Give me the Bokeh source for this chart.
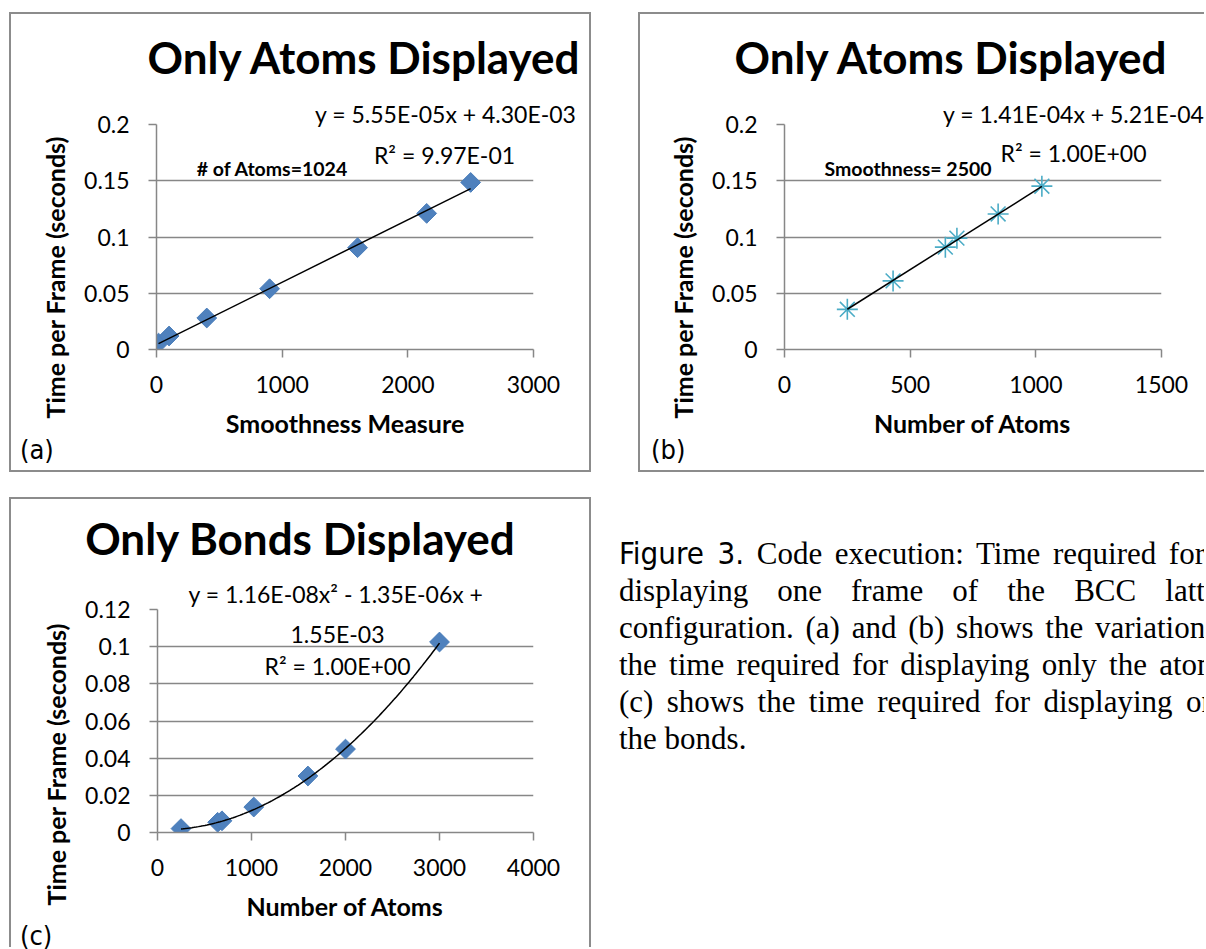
import numpy as np
from bokeh.plotting import figure
from bokeh.models import Range1d, FixedTicker, Label, Title, Spacer, Div
from bokeh.layouts import row, column
from bokeh.embed import file_html
from bokeh.resources import INLINE

# ---------------- data ----------------
y_label = "Time per Frame (seconds)"

a_title = "Only Atoms Displayed"
a_xlabel = "Smoothness Measure"
a_x = [16, 100, 400, 900, 1600, 2150, 2500]
a_y = [0.0057, 0.0120, 0.0280, 0.0540, 0.0905, 0.1210, 0.1485]
a_coef = [5.55e-05, 4.30e-03]          # slope, intercept
a_eq = "y = 5.55E-05x + 4.30E-03"
a_r2 = "R\u00b2 = 9.97E-01"
a_note = "# of Atoms=1024"
a_xticks = [0, 1000, 2000, 3000]
a_yticks = [0, 0.05, 0.1, 0.15, 0.2]
a_ylabels = ["0", "0.05", "0.1", "0.15", "0.2"]

b_title = "Only Atoms Displayed"
b_xlabel = "Number of Atoms"
b_x = [250, 432, 640, 686, 850, 1024]
b_y = [0.0357, 0.0610, 0.0910, 0.0990, 0.1205, 0.1452]
b_coef = [1.41e-04, 5.21e-04]
b_eq = "y = 1.41E-04x + 5.21E-04"
b_r2 = "R\u00b2 = 1.00E+00"
b_note = "Smoothness= 2500"
b_xticks = [0, 500, 1000, 1500]
b_yticks = [0, 0.05, 0.1, 0.15, 0.2]
b_ylabels = ["0", "0.05", "0.1", "0.15", "0.2"]

c_title = "Only Bonds Displayed"
c_xlabel = "Number of Atoms"
c_x = [250, 640, 686, 1024, 1600, 2000, 3000]
c_y = [0.0021, 0.0055, 0.0063, 0.0137, 0.0304, 0.0449, 0.1025]
c_coef = [1.16e-08, -1.35e-06, 1.55e-03]   # x^2, x, const
c_eq1 = "y = 1.16E-08x\u00b2 - 1.35E-06x +"
c_eq2 = "1.55E-03"
c_r2 = "R\u00b2 = 1.00E+00"
c_xticks = [0, 1000, 2000, 3000, 4000]
c_yticks = [0, 0.02, 0.04, 0.06, 0.08, 0.1, 0.12]
c_ylabels = ["0", "0.02", "0.04", "0.06", "0.08", "0.1", "0.12"]

panel_tags = ["(a)", "(b)", "(c)"]

caption_label = "Figure 3."
caption_lines = [
    "Code execution: Time required for",
    "displaying one frame of the BCC lattice",
    "configuration. (a) and (b) shows the variation in",
    "the time required for displaying only the atoms.",
    "(c) shows the time required for displaying only",
    "the bonds.",
]

# ---------------- style ----------------
GRID = "#878787"
FONT = "Lato"
COND = "'DejaVu Sans Condensed','DejaVu Sans',sans-serif"
BLUE = "#4f81bd"
AQUA = "#4bacc6"
EDGE = "#8c8c8c"


class Geo:
    """window-pixel -> data conversion for one panel's frame"""
    def __init__(self, L, FW, T, FH, xr, yr):
        self.L, self.FW, self.T, self.FH, self.xr, self.yr = L, FW, T, FH, xr, yr

    def x(self, px):
        return self.xr[0] + (px - self.L) / self.FW * (self.xr[1] - self.xr[0])

    def y(self, py):
        return self.yr[1] - (py - self.T) / self.FH * (self.yr[1] - self.yr[0])


def make_panel(width, height, left, right, top, bottom, xr, yr,
               xticks, yticks, ylabels, xlabel, ylab_offset):
    p = figure(width=width, height=height, x_range=Range1d(*xr), y_range=Range1d(*yr),
               output_backend="svg", toolbar_location=None, title=None,
               min_border_left=left, min_border_right=right,
               min_border_top=top, min_border_bottom=bottom,
               background_fill_color=None, border_fill_color=None,
               outline_line_color=None)
    p.xgrid.visible = False
    p.ygrid.ticker = FixedTicker(ticks=yticks)
    p.ygrid.grid_line_color = GRID
    p.ygrid.grid_line_width = 1.5
    for ax in (p.xaxis[0], p.yaxis[0]):
        ax.axis_line_color = GRID
        ax.axis_line_width = 1.5
        ax.major_tick_line_color = GRID
        ax.major_tick_line_width = 1.5
        ax.major_tick_out = 8
        ax.major_tick_in = 0
        ax.minor_tick_line_color = None
        ax.major_label_text_font = FONT
        ax.major_label_text_font_size = "23px"
        ax.major_label_text_color = "black"
        ax.axis_label_text_font = FONT
        ax.axis_label_text_font_style = "bold"
        ax.axis_label_text_font_size = "25px"
        ax.axis_label_text_color = "black"
    p.xaxis.ticker = FixedTicker(ticks=xticks)
    p.yaxis.ticker = FixedTicker(ticks=yticks)
    p.yaxis.major_label_overrides = {t: s for t, s in zip(yticks, ylabels)}
    p.xaxis.major_label_standoff = 18
    p.yaxis.major_label_standoff = 19
    p.xaxis.axis_label_standoff = 12
    p.xaxis.axis_label = xlabel
    # y-axis title: placed as a side title so it can sit lower than the frame centre
    p.add_layout(Title(text=y_label, align="left", offset=ylab_offset, standoff=23,
                       vertical_align="bottom", text_font=FONT, text_font_size="25px",
                       text_font_style="bold", text_color="black"), "left")
    return p


def add_top_text(p, text, align, offset, standoff):
    p.add_layout(Title(text=text, align=align, offset=offset, standoff=standoff,
                       vertical_align="bottom", text_font=FONT, text_font_size="23px",
                       text_font_style="normal", text_color="black"), "above")


def add_text(p, g, text, px, py, size, style="normal"):
    p.add_layout(Label(x=g.x(px), y=g.y(py), text=text, text_align="center",
                       text_baseline="alphabetic", text_font=FONT,
                       text_font_size=size, text_font_style=style, text_color="black"))


def title_div(text, width, height, pad_left, pad_top):
    html = (f"<div style=\"width:{width}px;box-sizing:border-box;padding-left:{pad_left}px;"
            f"padding-top:{pad_top}px;text-align:center;"
            f"font-family:{FONT};font-weight:bold;font-size:44px;line-height:52px;"
            f"white-space:nowrap;color:#000\">{text}</div>")
    return Div(text=html, width=width, height=height, margin=0, styles={"overflow": "visible"})


def tag_div(text, width, height, pad_left, shift):
    html = (f"<div style=\"position:relative;top:{shift}px;padding-left:{pad_left}px;"
            f"font-family:{COND};font-stretch:condensed;font-size:27px;line-height:27px;"
            f"color:#000\">{text}</div>")
    return Div(text=html, width=width, height=height, margin=0, styles={"overflow": "visible"})


# ---------------- panel (a) ----------------
ga = Geo(156, 377, 124, 225, (0, 3000), (0, 0.2))
pa = make_panel(582, 344, 147, 58, 24, 95, ga.xr, ga.yr, a_xticks, a_yticks, a_ylabels,
                a_xlabel, -69)
pa.scatter(a_x, a_y, marker="square", angle=np.pi / 4, size=14,
           fill_color=BLUE, line_color="#4a7ebb")
ax_line = np.array([min(a_x), max(a_x)])
pa.line(ax_line, a_coef[0] * ax_line + a_coef[1], line_color="black", line_width=1.5)
add_top_text(pa, a_eq, "right", -43, -6)
add_text(pa, ga, a_r2, 444, 154, "23px")
add_text(pa, ga, a_note, 272, 168, "19.5px", "bold")
col_a = column(title_div(a_title, 582, 88, 127, 19), pa, tag_div(panel_tags[0], 582, 28, 11, -8),
               styles={"box-shadow": f"inset 0 0 0 2px {EDGE}"})

# ---------------- panel (b) ----------------
gb = Geo(784, 377, 124, 225, (0, 1500), (0, 0.2))
pb = make_panel(566, 344, 146, 43, 24, 95, gb.xr, gb.yr, b_xticks, b_yticks, b_ylabels,
                b_xlabel, -69)
pb.scatter(b_x, b_y, marker="asterisk", size=21, line_color=AQUA, line_width=1.6)
bx_line = np.array([min(b_x), max(b_x)])
pb.line(bx_line, b_coef[0] * bx_line + b_coef[1], line_color="black", line_width=1.5)
add_top_text(pb, b_eq, "right", -43, -6)
add_text(pb, gb, b_r2, 1073, 152, "23px")
add_text(pb, gb, b_note, 907.5, 168, "19.5px", "bold")
col_b = column(title_div(b_title, 566, 88, 59, 19), pb, tag_div(panel_tags[1], 566, 28, 13, -8),
               styles={"box-shadow": f"inset 2px 2px 0 0 {EDGE}, inset 0 -2px 0 0 {EDGE}"})

# ---------------- panel (c) ----------------
gc = Geo(157, 376, 609, 223, (0, 4000), (0, 0.12))
pc = make_panel(582, 350, 148, 58, 34, 93, gc.xr, gc.yr, c_xticks, c_yticks, c_ylabels,
                c_xlabel, -73)
pc.scatter(c_x, c_y, marker="square", angle=np.pi / 4, size=14,
           fill_color=BLUE, line_color="#4a7ebb")
cx_line = np.linspace(min(c_x), max(c_x), 120)
pc.line(cx_line, np.polyval(c_coef, cx_line), line_color="black", line_width=1.5)
add_top_text(pc, c_eq1, "left", 31, 4)
add_text(pc, gc, c_eq2, 337, 633, "23px")
add_text(pc, gc, c_r2, 337, 665, "23px")
col_c = column(title_div(c_title, 582, 78, 0, 15), pc, tag_div(panel_tags[2], 582, 22, 11, -3),
               styles={"box-shadow": f"inset 2px 2px 0 0 {EDGE}, inset -2px 0 0 0 {EDGE}"})

# ---------------- caption ----------------
line_widths = [586, 622, 622, 622, 622, None]
parts = []
for i, (txt, w) in enumerate(zip(caption_lines, line_widths)):
    if i == 0:
        txt = (f"<span style=\"font-family:{COND};font-stretch:condensed;font-size:31px\">"
               f"{caption_label}</span> " + txt)
    if w is None:
        parts.append(f"<div style='white-space:nowrap'>{txt}</div>")
    else:
        parts.append(f"<div style='width:{w}px;white-space:nowrap;text-align:justify;"
                     f"text-align-last:justify'>{txt}</div>")
caption_html = ("<div style=\"padding-top:38px;font-family:'Liberation Serif','Times New Roman',serif;"
                "font-size:31px;line-height:37px;color:#000;width:660px\">"
                + "".join(parts) + "</div>")
cap = Div(text=caption_html, width=585, height=450, margin=0, styles={"overflow": "hidden"})

layout = column(
    Spacer(height=12),
    row(Spacer(width=9), col_a, Spacer(width=47), col_b),
    Spacer(height=25),
    row(Spacer(width=9), col_c, Spacer(width=28), cap),
)

open("out.html", "w").write(file_html(layout, INLINE))
